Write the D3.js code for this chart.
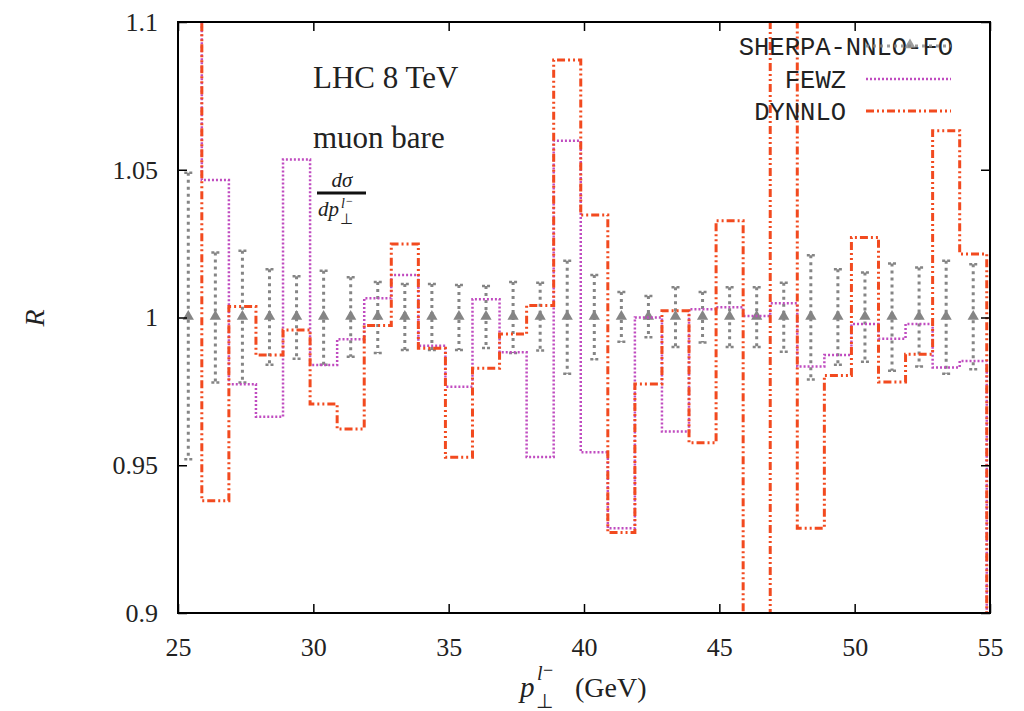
<!DOCTYPE html>
<html>
<head>
<meta charset="utf-8">
<script src="https://cdn.jsdelivr.net/npm/d3@7"></script>
<style>
body { margin: 0; background: #fff; }
text { fill: #222; }
</style>
</head>
<body>
<script>
// bins (GeV), 1 GeV wide
var binCenters = [25.38, 26.38, 27.38, 28.38, 29.38, 30.38, 31.38, 32.38, 33.38, 34.38,
                  35.38, 36.38, 37.38, 38.38, 39.38, 40.38, 41.38, 42.38, 43.38, 44.38,
                  45.38, 46.38, 47.38, 48.38, 49.38, 50.38, 51.38, 52.38, 53.38, 54.38];
var binWidth = 1;

// SHERPA-NNLO-FO is the reference (R = 1) with its uncertainty band
var sherpaUp = [1.049, 1.022, 1.0226, 1.0163, 1.014, 1.0158, 1.0136, 1.012, 1.0113, 1.0113,
                1.011, 1.0107, 1.012, 1.0118, 1.0192, 1.0144, 1.0086, 1.0073, 1.0102, 1.0086,
                1.0102, 1.0102, 1.0118, 1.0211, 1.0163, 1.0152, 1.0183, 1.0169, 1.0192, 1.018];
var sherpaDown = [0.952, 0.978, 0.978, 0.984, 0.986, 0.984, 0.9867, 0.988, 0.989, 0.989,
                  0.989, 0.9897, 0.988, 0.9888, 0.981, 0.9859, 0.9918, 0.9933, 0.990, 0.9915,
                  0.990, 0.990, 0.9884, 0.979, 0.984, 0.985, 0.982, 0.9834, 0.981, 0.9825];

var fewz = [1.12, 1.0465, 0.9774, 0.9664, 1.0535, 0.9839, 0.9926, 1.0065, 1.0144, 0.9904,
            0.9766, 1.0062, 0.9882, 0.9528, 1.0598, 0.9544, 0.9287, 1.000, 0.9614, 1.0028,
            1.0035, 1.0005, 1.0048, 0.9834, 0.9873, 0.9978, 0.9928, 0.9978, 0.9831, 0.9853];

var dynnlo = [1.13, 0.938, 1.0037, 0.9873, 0.9958, 0.9707, 0.9623, 0.9973, 1.0249, 0.9896,
              0.9527, 0.9828, 0.9944, 1.0041, 1.0871, 1.0347, 0.9272, 0.9775, 1.0023, 0.9576,
              1.0327, 0.87, 1.13, 0.9287, 0.9804, 1.0271, 0.9782, 0.9876, 1.0632, 1.0215];

var xTicks = [25, 30, 35, 40, 45, 50, 55];
var yTicks = [0.9, 0.95, 1, 1.05, 1.1];
var yTickLabels = ["0.9", "0.95", "1", "1.05", "1.1"];

var seriesNames = ["SHERPA-NNLO-FO", "FEWZ", "DYNNLO"];

// set dimensions
var width = 1024;
var height = 711;
var plotL = 178, plotR = 990, plotT = 22, plotB = 613;

var grey = "#858585";
var purple = "#c04cc0";
var orange = "#f24a1f";

var svg = d3.select("body")
    .append("svg")
    .attr("width", width)
    .attr("height", height);

var xScale = d3.scaleLinear().domain([25, 55]).range([plotL, plotR]);
var yScale = d3.scaleLinear().domain([0.9, 1.1]).range([plotB, plotT]);

svg.append("clipPath").attr("id", "plot")
    .append("rect")
    .attr("x", plotL).attr("y", plotT)
    .attr("width", plotR - plotL).attr("height", plotB - plotT);

var plot = svg.append("g").attr("clip-path", "url(#plot)");

// histogram steps (edges half a bin either side of the centre, dropping out of range at the ends)
function stepPoints(vals) {
    var pts = [];
    var h = binWidth / 2;
    pts.push([binCenters[0] - h, 0.8]);
    vals.forEach(function(v, i) {
        pts.push([binCenters[i] - h, v]);
        pts.push([binCenters[i] + h, v]);
    });
    pts.push([binCenters[binCenters.length - 1] + h, 0.8]);
    return pts;
}

var line = d3.line()
    .x(d => xScale(d[0]))
    .y(d => yScale(d[1]));

// SHERPA error bars
var bars = plot.selectAll(".err")
    .data(binCenters)
    .enter()
    .append("g");

bars.append("line")
    .attr("x1", d => xScale(d)).attr("x2", d => xScale(d))
    .attr("y1", (d, i) => yScale(sherpaUp[i]))
    .attr("y2", (d, i) => yScale(sherpaDown[i]))
    .attr("stroke", grey).attr("stroke-width", 3)
    .attr("stroke-dasharray", "3,4");

[sherpaUp, sherpaDown].forEach(function(arr) {
    bars.append("line")
        .attr("x1", d => xScale(d) - 4).attr("x2", d => xScale(d) + 4)
        .attr("y1", (d, i) => yScale(arr[i]))
        .attr("y2", (d, i) => yScale(arr[i]))
        .attr("stroke", grey).attr("stroke-width", 2.5)
        .attr("stroke-dasharray", "3,2");
});

bars.append("path")
    .attr("d", d3.symbol().type(d3.symbolTriangle).size(55))
    .attr("transform", d => `translate(${xScale(d)},${yScale(1) - 1})`)
    .attr("fill", grey);

// FEWZ
plot.append("path")
    .attr("d", line(stepPoints(fewz)))
    .attr("fill", "none")
    .attr("stroke", purple)
    .attr("stroke-width", 2.5)
    .attr("stroke-dasharray", "2,2");

// DYNNLO
plot.append("path")
    .attr("d", line(stepPoints(dynnlo)))
    .attr("fill", "none")
    .attr("stroke", orange)
    .attr("stroke-width", 3)
    .attr("stroke-dasharray", "8,3,2,3,2,3");

// axes with inward ticks on all sides
var xAxis = d3.axisBottom(xScale).tickValues(xTicks).tickSize(-9).tickPadding(25)
    .tickFormat(d3.format("d"));
var yAxis = d3.axisLeft(yScale).tickValues(yTicks).tickSize(-9).tickPadding(20)
    .tickFormat((d, i) => yTickLabels[i]);

var gx = svg.append("g")
    .attr("transform", `translate(0, ${plotB})`)
    .call(xAxis);
var gy = svg.append("g")
    .attr("transform", `translate(${plotL}, 0)`)
    .call(yAxis);
var gxt = svg.append("g")
    .attr("transform", `translate(0, ${plotT})`)
    .call(d3.axisTop(xScale).tickValues(xTicks).tickSize(-9).tickFormat(""));
var gyr = svg.append("g")
    .attr("transform", `translate(${plotR}, 0)`)
    .call(d3.axisRight(yScale).tickValues(yTicks).tickSize(-9).tickFormat(""));

[gx, gy, gxt, gyr].forEach(function(g) {
    g.attr("font-family", "'Liberation Serif', serif");
    g.select(".domain").remove();
    g.selectAll(".tick line").attr("stroke", "#000").attr("stroke-width", 1.5);
    g.selectAll("text")
        .attr("font-family", "'Liberation Serif', serif")
        .attr("font-size", "26px")
        .attr("fill", "#222");
});

svg.append("rect")
    .attr("x", plotL).attr("y", plotT)
    .attr("width", plotR - plotL).attr("height", plotB - plotT)
    .attr("fill", "none").attr("stroke", "#000").attr("stroke-width", 2);

// axis titles
var serif = "'Liberation Serif', serif";
svg.append("text")
    .attr("transform", "translate(44, 318) rotate(-90)")
    .attr("text-anchor", "middle")
    .attr("font-family", serif).attr("font-style", "italic")
    .attr("font-size", "28px")
    .text("R");

var xt = svg.append("g").attr("font-family", serif);
xt.append("text").attr("x", 520).attr("y", 697)
    .attr("font-style", "italic").attr("font-size", "29px").text("p");
xt.append("text").attr("x", 537).attr("y", 680)
    .attr("font-style", "italic").attr("font-size", "20px").text("l");
xt.append("text").attr("x", 543).attr("y", 676)
    .attr("font-size", "18px").text("\u2212");
xt.append("text").attr("x", 536).attr("y", 708)
    .attr("font-size", "20px").text("\u22a5");
xt.append("text").attr("x", 575).attr("y", 697)
    .attr("font-size", "28px").text("(GeV)");

// annotations
svg.append("text").attr("x", 313).attr("y", 88)
    .attr("font-family", serif).attr("font-size", "31px").text("LHC 8 TeV");
svg.append("text").attr("x", 313).attr("y", 148)
    .attr("font-family", serif).attr("font-size", "31px").text("muon bare");

var frac = svg.append("g").attr("font-family", serif);
frac.append("text").attr("x", 342).attr("y", 187).attr("text-anchor", "middle")
    .attr("font-style", "italic").attr("font-size", "21px").text("d\u03c3");
frac.append("line").attr("x1", 317).attr("x2", 366).attr("y1", 193).attr("y2", 193)
    .attr("stroke", "#111").attr("stroke-width", 3);
frac.append("text").attr("x", 318).attr("y", 216)
    .attr("font-style", "italic").attr("font-size", "21px").text("dp");
frac.append("text").attr("x", 341).attr("y", 208)
    .attr("font-style", "italic").attr("font-size", "14px").text("l");
frac.append("text").attr("x", 346).attr("y", 205)
    .attr("font-size", "12px").text("\u2212");
frac.append("text").attr("x", 340).attr("y", 224)
    .attr("font-size", "15px").text("\u22a5");

// legend
var mono = "'Courier New', 'Liberation Mono', monospace";
var legendTextX = [953, 846, 846];
var legendY = [46, 79, 111];
var legend = svg.append("g")
    .attr("font-family", mono)
    .attr("font-size", "25.5px");

legend.selectAll("text")
    .data(seriesNames)
    .enter()
    .append("text")
    .attr("x", (d, i) => legendTextX[i])
    .attr("y", (d, i) => legendY[i] + 9)
    .attr("text-anchor", "end")
    .text(d => d);

legend.append("line")
    .attr("x1", 866).attr("x2", 951).attr("y1", legendY[0]).attr("y2", legendY[0])
    .attr("stroke", grey).attr("stroke-width", 3).attr("stroke-dasharray", "3,4")
    .attr("opacity", 0.8);
legend.append("path")
    .attr("d", d3.symbol().type(d3.symbolTriangle).size(55))
    .attr("transform", `translate(910,${legendY[0] - 1})`)
    .attr("fill", grey).attr("opacity", 0.8);
legend.append("line")
    .attr("x1", 866).attr("x2", 951).attr("y1", legendY[1]).attr("y2", legendY[1])
    .attr("stroke", purple).attr("stroke-width", 2.5).attr("stroke-dasharray", "2,2");
legend.append("line")
    .attr("x1", 866).attr("x2", 951).attr("y1", legendY[2]).attr("y2", legendY[2])
    .attr("stroke", orange).attr("stroke-width", 3).attr("stroke-dasharray", "8,3,2,3,2,3");
</script>
</body>
</html>
